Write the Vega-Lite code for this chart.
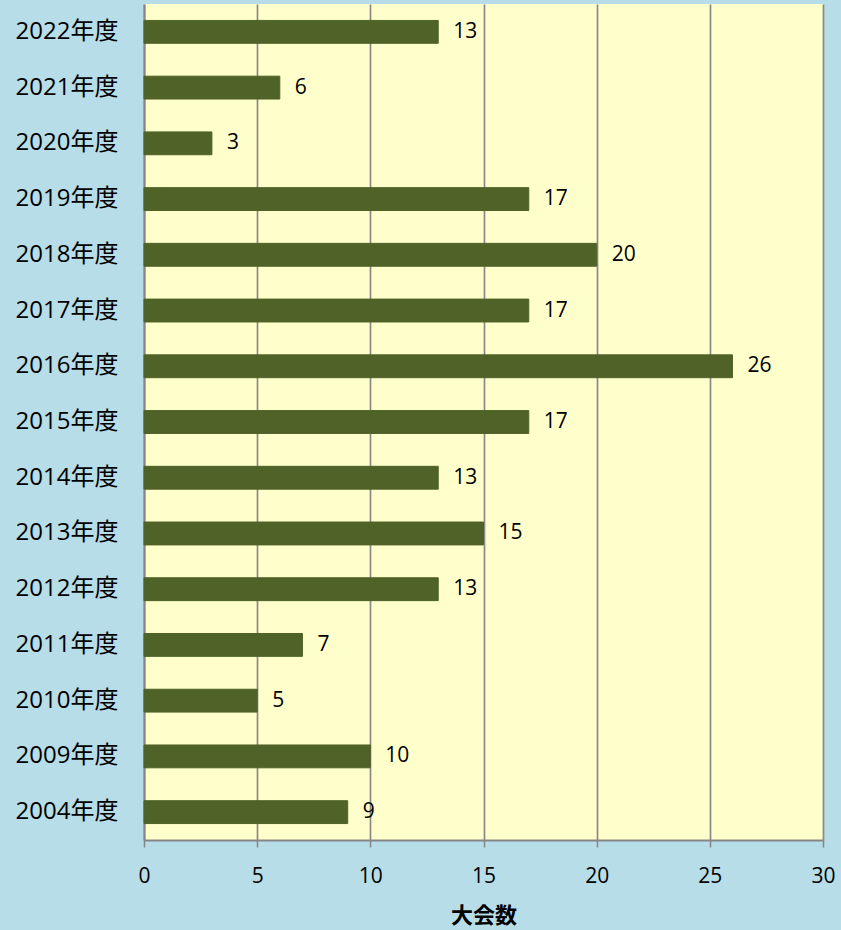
{
  "$schema": "https://vega.github.io/schema/vega-lite/v6.json",
  "width": 679,
  "height": 836,
  "autosize": {"type": "none"},
  "padding": {"left": 144, "top": 4, "right": 18, "bottom": 90},
  "background": "#b7dde8",
  "view": {"fill": "#ffffcc", "stroke": null},
  "config": {
    "font": "Open Sans, Noto Sans CJK JP"
  },
  "data": {
    "values": [
      {"year": "2022年度", "count": 13},
      {"year": "2021年度", "count": 6},
      {"year": "2020年度", "count": 3},
      {"year": "2019年度", "count": 17},
      {"year": "2018年度", "count": 20},
      {"year": "2017年度", "count": 17},
      {"year": "2016年度", "count": 26},
      {"year": "2015年度", "count": 17},
      {"year": "2014年度", "count": 13},
      {"year": "2013年度", "count": 15},
      {"year": "2012年度", "count": 13},
      {"year": "2011年度", "count": 7},
      {"year": "2010年度", "count": 5},
      {"year": "2009年度", "count": 10},
      {"year": "2004年度", "count": 9}
    ]
  },
  "encoding": {
    "y": {
      "field": "year",
      "type": "nominal",
      "sort": null,
      "scale": {"paddingInner": 0.59, "paddingOuter": 0.295},
      "axis": {
        "title": null,
        "labelFont": "Open Sans, Noto Sans CJK JP",
        "labelFontSize": 24,
        "labelColor": "#000000",
        "labelPadding": 26,
        "ticks": false,
        "domainColor": "#868686",
        "domainWidth": 2,
        "grid": false
      }
    },
    "x": {
      "field": "count",
      "type": "quantitative",
      "scale": {"domain": [0, 30], "nice": false},
      "axis": {
        "title": "大会数",
        "titleFont": "Noto Sans CJK JP",
        "titleFontSize": 22,
        "titleFontWeight": "bold",
        "titleColor": "#000000",
        "titlePadding": 19,
        "values": [0, 5, 10, 15, 20, 25, 30],
        "labelFont": "Open Sans",
        "labelFontSize": 21,
        "labelColor": "#000000",
        "labelPadding": 18,
        "labelFlush": false,
        "tickSize": 7,
        "tickColor": "#868686",
        "tickWidth": 1.5,
        "domainColor": "#868686",
        "domainWidth": 2,
        "grid": true,
        "gridColor": "#898989",
        "gridWidth": 1.7,
        "gridOpacity": 1
      }
    }
  },
  "layer": [
    {
      "mark": {"type": "bar", "color": "#4f6228", "stroke": "#4f6228", "strokeWidth": 1}
    },
    {
      "mark": {"type": "text", "align": "left", "baseline": "middle", "dx": 15, "font": "Open Sans", "fontSize": 21, "color": "#000000"},
      "encoding": {"text": {"field": "count", "type": "quantitative"}}
    }
  ]
}
